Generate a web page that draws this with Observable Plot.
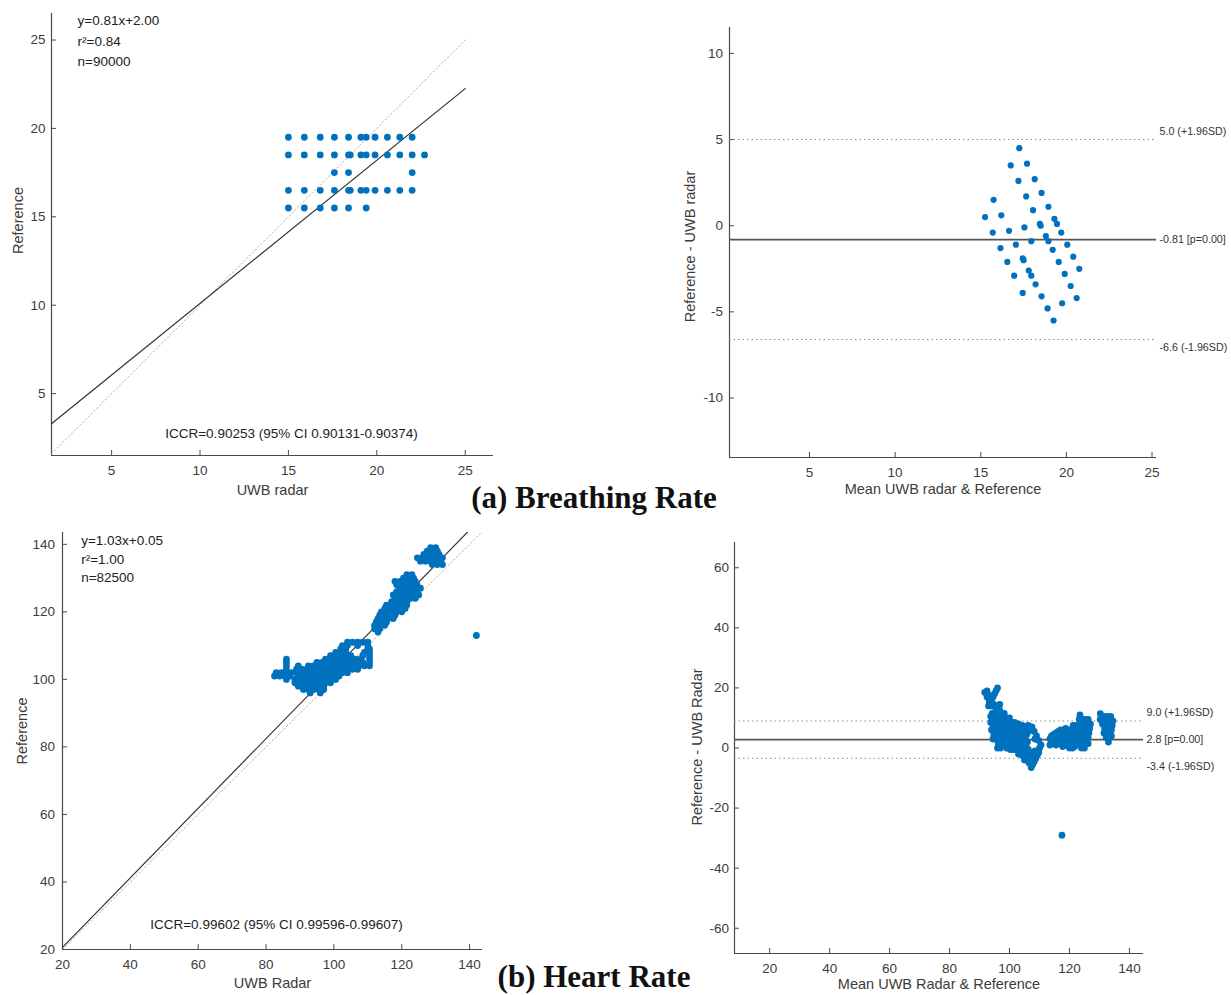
<!DOCTYPE html>
<html>
<head>
<meta charset="utf-8">
<script src="https://cdn.jsdelivr.net/npm/d3@7"></script>
<script src="https://cdn.jsdelivr.net/npm/@observablehq/plot@0.6"></script>
<style>
  html, body { margin: 0; padding: 0; background: #fff; }
  #root { position: relative; width: 1231px; height: 995px; overflow: hidden; background: #fff; }
  .panel { position: absolute; }
  .title { position: absolute; font-family: "Liberation Serif", "Times New Roman", serif; font-weight: bold;
           font-size: 31px; line-height: 1; color: #111; white-space: nowrap; transform: translate(-50%, -50%); }
</style>
</head>
<body>
<div id="root"></div>
<script>
// ---------------- Breathing rate (a) ----------------
const brRefLevels = [19.5, 18.5, 17.5, 16.5, 15.5];
const brRadarAtLevel = [
  [15.0, 15.9, 16.8, 17.6, 18.4, 19.1, 19.4, 19.9, 20.6, 21.3, 22.0],
  [15.0, 15.9, 16.8, 17.6, 18.4, 18.5, 19.1, 19.4, 19.9, 20.6, 21.3, 22.0, 22.7],
  [17.6, 18.4, 22.0],
  [15.0, 15.9, 16.8, 17.6, 18.4, 18.5, 19.1, 19.4, 19.9, 20.6, 21.3, 22.0],
  [15.0, 15.9, 16.8, 17.6, 18.4, 19.4]
];
const brFitCoef = [0.81, 2.00];           // slope, intercept
const brLineRange = [1.6, 25];            // x extent of fit / identity lines
const brStats = ["y=0.81x+2.00", "r²=0.84", "n=90000"];
const brIccr = "ICCR=0.90253 (95% CI 0.90131-0.90374)";
const brLoA = [5.0, -0.81, -6.6];
const brLoALabels = ["5.0 (+1.96SD)", "-0.81 [p=0.00]", "-6.6 (-1.96SD)"];
const brTicks = [5, 10, 15, 20, 25];
const brDiffTicks = [-10, -5, 0, 5, 10];

// ---------------- Heart rate (b) ----------------
const hrRefLevels = [139, 138, 137, 136, 135, 134, 131, 130, 129, 128, 127, 126, 125, 124, 123,
  122, 121, 120, 119, 118, 117, 116, 115, 114, 111, 110, 109, 108, 107, 106, 105, 104,
  103, 102, 101, 100, 99, 98, 97, 96];
const hrRadarAtLevel = [
  [128.5, 130],
  [127.5, 129, 130.5],
  [126.5, 128, 129.5, 131],
  [124.6, 126, 127.5, 129, 130.5, 132],
  [125.5, 127, 128.5, 130, 131.5],
  [129, 130.5, 132],
  [121.5, 123],
  [120.5, 122, 123.5],
  [118, 119.5, 121, 122.5, 124],
  [118.5, 120, 121.5, 123, 124.5],
  [119.5, 121, 122.5, 124, 125.5],
  [118.5, 120, 121.5, 123, 124.5],
  [117.5, 119, 120.5, 122, 123.5, 125],
  [118, 119.5, 121, 122.5, 124],
  [117, 118.5, 120, 121.5],
  [115.5, 117, 118.5, 120, 121.5],
  [115, 116.5, 118, 119.5, 121],
  [114, 115.5, 117, 118.5, 120],
  [113.5, 115, 116.5, 118],
  [113, 114.5, 116, 117.5],
  [112.5, 114, 115.5],
  [112, 113.5, 115],
  [112, 113.5],
  [113],
  [104, 105.5, 107, 108.5, 110],
  [102.5, 104, 107, 110],
  [102, 103.5, 110, 110.5],
  [100.5, 102, 103.5, 109, 110.5],
  [99, 100.5, 102, 103.5, 105, 108.5, 110.5],
  [86, 97.5, 99, 100.5, 102, 103.5, 105, 106.5, 108, 110.5],
  [86, 95, 96.5, 98, 99.5, 101, 102.5, 104, 105.5, 107, 108.5, 110.5],
  [86, 89.5, 92.5, 94, 95.5, 97, 98.5, 100, 101.5, 103, 104.5, 106, 107.5, 109, 110.5],
  [86, 89, 90.5, 92, 93.5, 95, 96.5, 98, 99.5, 101, 102.5, 104, 105.5, 107],
  [83, 84.5, 86, 87.5, 89, 90.5, 92, 93.5, 95, 96.5, 98, 99.5, 101, 102.5, 104],
  [82.5, 84, 85.5, 87, 89.5, 91, 92.5, 94, 95.5, 97, 98.5, 100, 101.5],
  [86, 88.5, 90, 91.5, 93, 94.5, 96, 97.5, 99, 100.5],
  [88.5, 90, 91.5, 93, 94.5, 96, 97.5, 99],
  [89.5, 91, 92.5, 94, 95.5, 97],
  [91, 92.5, 94, 95.5, 97],
  [93, 96]
];
// isolated outlier as it appears in each panel
const hrScatterOutlierRadar = [142];
const hrScatterOutlierRef = [113];
const hrBaOutlierMean = [117.5];
const hrBaOutlierDiff = [-29];
const hrFitCoef = [1.03, 0.05];
const hrLineRange = [20, 143.8];
const hrStats = ["y=1.03x+0.05", "r²=1.00", "n=82500"];
const hrIccr = "ICCR=0.99602 (95% CI 0.99596-0.99607)";
const hrLoA = [9.0, 2.8, -3.4];
const hrLoALabels = ["9.0 (+1.96SD)", "2.8 [p=0.00]", "-3.4 (-1.96SD)"];
const hrTicks = [20, 40, 60, 80, 100, 120, 140];
const hrDiffTicks = [-60, -40, -20, 0, 20, 40, 60];

// ---------------- helpers ----------------
const FONT = '"Liberation Sans", Arial, Helvetica, sans-serif';
const DOT = "#0072BD";
const AX = "#4a4a4a";
const TXT = "#3c3c3c";
const fmt = d => String(d);
const root = document.getElementById("root");

const brPts = brRefLevels.flatMap((r, i) => brRadarAtLevel[i].map(u => ({u, r})));
const hrPts = hrRefLevels.flatMap((r, i) => hrRadarAtLevel[i].map(u => ({u, r})));
const hrOut = hrScatterOutlierRadar.map((u, i) => ({u, r: hrScatterOutlierRef[i]}));
const hrBaOut = hrBaOutlierMean.map((m, i) => ({m, d: hrBaOutlierDiff[i]}));

function place(svg, left, top) {
  const div = document.createElement("div");
  div.className = "panel";
  div.style.left = left + "px";
  div.style.top = top + "px";
  div.append(svg);
  root.append(div);
}

function frameAxes(xDom, yDom, xTicks, yTicks, yGap) {
  return [
    Plot.ruleY([yDom[0]], {stroke: AX, strokeWidth: 1.2}),
    Plot.ruleX([xDom[0]], {stroke: AX, strokeWidth: 1.2}),
    Plot.axisX({ticks: xTicks, tickFormat: fmt, tickSize: -5, tickPadding: 15, label: null, stroke: AX, fill: TXT, fontSize: 13.5}),
    Plot.axisY({ticks: yTicks, tickFormat: fmt, tickSize: -5, tickPadding: 5 + yGap, label: null, stroke: AX, fill: TXT, fontSize: 13.5})
  ];
}

function axisLabels(xLabel, yLabel, xDy, yDx, yDy) {
  return [
    Plot.text([xLabel], {text: d => d, frameAnchor: "bottom", dy: xDy, lineAnchor: "middle", fontSize: 14.5, fill: TXT}),
    Plot.text([yLabel], {text: d => d, frameAnchor: "left", dx: yDx, dy: yDy, rotate: -90, lineAnchor: "middle", textAnchor: "middle", fontSize: 14.5, fill: TXT})
  ];
}

function loaMarks(loa, labels) {
  const dys = [-8, 0, 8];
  return [
    Plot.ruleY([loa[0], loa[2]], {stroke: "#8a8a8a", strokeDasharray: "1.5,3", strokeWidth: 1.1}),
    Plot.ruleY([loa[1]], {stroke: "#555", strokeWidth: 1.8}),
    ...loa.map((v, i) => Plot.text([v], {y: d => d, text: () => labels[i], frameAnchor: "right", textAnchor: "start", dx: 3, dy: dys[i], fontSize: 10.7, fill: "#333"}))
  ];
}

const style = {fontFamily: FONT, fontSize: "13.5px", color: TXT, background: "transparent", overflow: "visible"};

// ---------------- Panel A ----------------
{
  const xDom = [1.6, 26.6], yDom = [1.5, 26.5];
  const svg = Plot.plot({
    width: 615, height: 500, marginLeft: 51, marginRight: 122, marginTop: 13, marginBottom: 45,
    style, x: {domain: xDom}, y: {domain: yDom},
    marks: [
      ...frameAxes(xDom, yDom, brTicks, brTicks, 6),
      Plot.line(brLineRange, {x: d => d, y: d => d, stroke: "#b0b0b0", strokeDasharray: "1.5,2.5", strokeWidth: 1}),
      Plot.line(brLineRange, {x: d => d, y: d => brFitCoef[0] * d + brFitCoef[1], stroke: "#333", strokeWidth: 1.2}),
      Plot.dot(brPts, {x: "u", y: "r", r: 3.4, fill: DOT}),
      Plot.text([brStats.join("\n")], {text: d => d, frameAnchor: "top-left", dx: 26, dy: -2.5, lineAnchor: "top", lineHeight: 1.5, textAnchor: "start", fontSize: 13.5, fill: "#222"}),
      Plot.text([brIccr], {text: d => d, frameAnchor: "bottom", dx: 19, dy: -22, lineAnchor: "middle", fontSize: 13.5, fill: "#222"}),
      ...axisLabels("UWB radar", "Reference", 35, -33, -14)
    ]
  });
  place(svg, 0, 0);
}

// ---------------- Panel B ----------------
{
  const xDom = [0.33, 25.26], yDom = [-13.45, 11.5];
  const svg = Plot.plot({
    width: 616, height: 500, marginLeft: 114, marginRight: 75, marginTop: 27, marginBottom: 43,
    style, x: {domain: xDom}, y: {domain: yDom},
    marks: [
      ...frameAxes(xDom, yDom, brTicks, brDiffTicks, 6.5),
      ...loaMarks(brLoA, brLoALabels),
      Plot.dot(brPts, {x: d => (d.u + d.r) / 2, y: d => d.r - d.u, r: 3.1, fill: DOT}),
      ...axisLabels("Mean UWB radar & Reference", "Reference - UWB radar", 32, -39, 4)
    ]
  });
  place(svg, 615, 0);
}

// ---------------- Panel C ----------------
{
  const xDom = [20, 143.8], yDom = [20, 143.5];
  const svg = Plot.plot({
    width: 615, height: 480, marginLeft: 62, marginRight: 133, marginTop: 17, marginBottom: 46,
    style, x: {domain: xDom}, y: {domain: yDom},
    marks: [
      ...frameAxes(xDom, yDom, hrTicks, hrTicks, 7.5),
      Plot.line(hrLineRange, {x: d => d, y: d => d, stroke: "#b0b0b0", strokeDasharray: "1.5,2.5", strokeWidth: 1, clip: true}),
      Plot.line(hrLineRange, {x: d => d, y: d => hrFitCoef[0] * d + hrFitCoef[1], stroke: "#333", strokeWidth: 1.2, clip: true}),
      Plot.dot(hrPts, {x: "u", y: "r", r: 3.4, fill: DOT}),
      Plot.dot(hrOut, {x: "u", y: "r", r: 3.4, fill: DOT}),
      Plot.text([hrStats.join("\n")], {text: d => d, frameAnchor: "top-left", dx: 18.7, dy: -0.5, lineAnchor: "top", lineHeight: 1.37, textAnchor: "start", fontSize: 13.5, fill: "#222"}),
      Plot.text([hrIccr], {text: d => d, frameAnchor: "bottom", dx: 4, dy: -25, lineAnchor: "middle", fontSize: 13.5, fill: "#222"}),
      ...axisLabels("UWB Radar", "Reference", 34, -40, -10)
    ]
  });
  place(svg, 0, 515);
}

// ---------------- Panel D ----------------
{
  const xDom = [8.26, 144.7], yDom = [-68.4, 68.4];
  const svg = Plot.plot({
    width: 616, height: 480, marginLeft: 119, marginRight: 88, marginTop: 27, marginBottom: 42,
    style, x: {domain: xDom}, y: {domain: yDom},
    marks: [
      ...frameAxes(xDom, yDom, hrTicks, hrDiffTicks, 5.5),
      ...loaMarks(hrLoA, hrLoALabels),
      Plot.dot(hrPts, {x: d => (d.u + d.r) / 2, y: d => d.r - d.u, r: 3.4, fill: DOT}),
      Plot.dot(hrBaOut, {x: "m", y: "d", r: 3.4, fill: DOT}),
      ...axisLabels("Mean UWB Radar & Reference", "Reference - UWB Radar", 31, -37, -1)
    ]
  });
  place(svg, 615, 515);
}

// ---------------- Titles ----------------
for (const [txt, x, y] of [["(a) Breathing Rate", 594, 497], ["(b) Heart Rate", 594, 976]]) {
  const t = document.createElement("div");
  t.className = "title";
  t.textContent = txt;
  t.style.left = x + "px";
  t.style.top = y + "px";
  root.append(t);
}
</script>
</body>
</html>
